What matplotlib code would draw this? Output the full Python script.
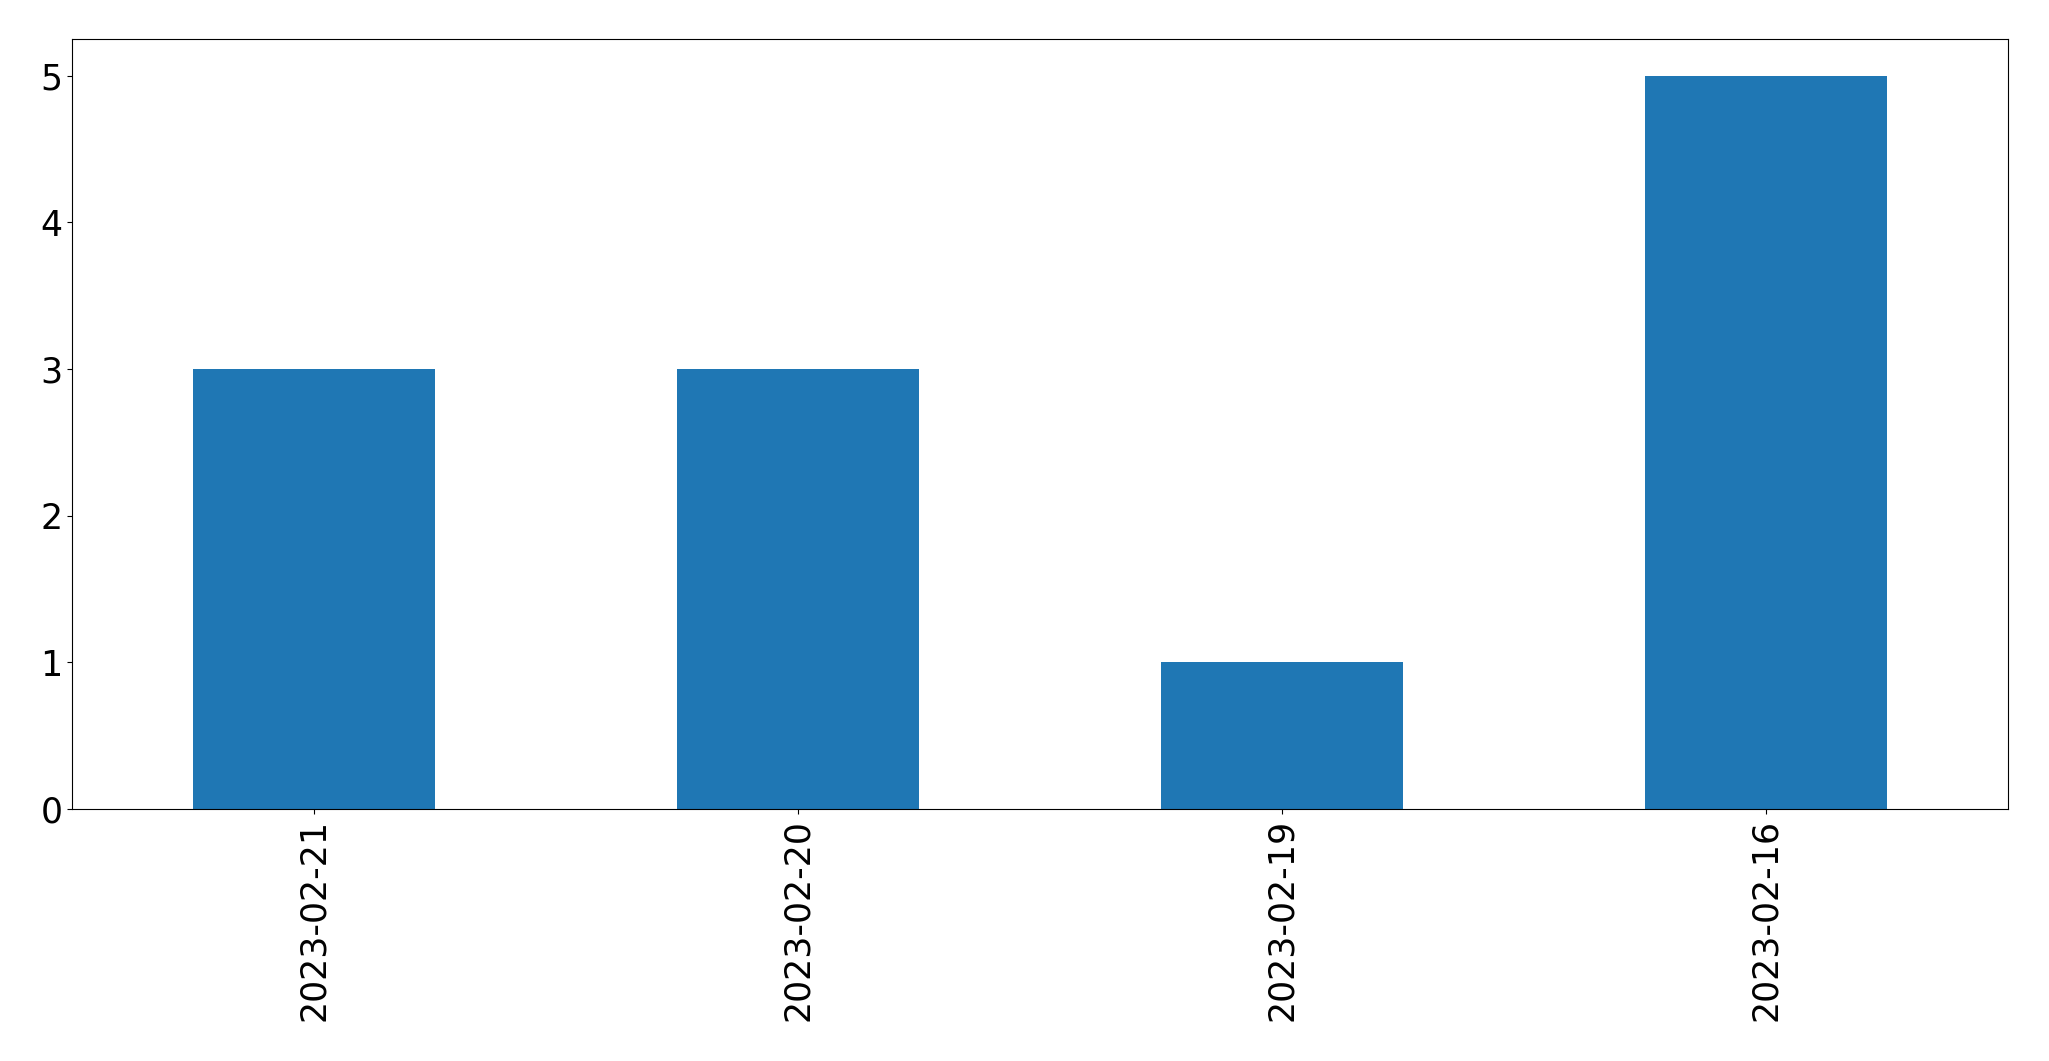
import matplotlib
matplotlib.use("Agg")
import matplotlib.pyplot as plt
import pandas as pd

dates = ["2023-02-21", "2023-02-20", "2023-02-19", "2023-02-16"]
counts = [3, 3, 1, 5]

W, H = 2049, 1061
fig = plt.figure(figsize=(W / 100, H / 100), dpi=100)
ax = fig.add_axes([72 / W, (H - 809) / H, (2008 - 72) / W, (809 - 39) / H])

s = pd.Series(counts, index=dates)
s.plot(kind="bar", ax=ax, color="#1f77b4", width=0.5)

ax.tick_params(axis="both", labelsize=25)

fig.savefig("out.png", dpi=100)
